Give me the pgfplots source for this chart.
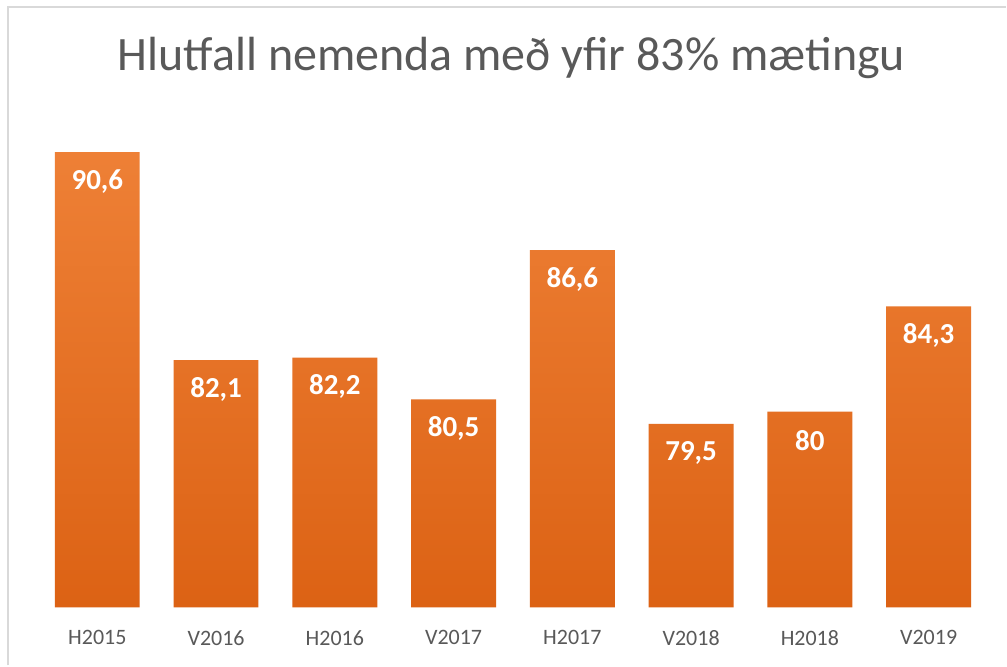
\documentclass[border=0pt]{standalone}
\usepackage{fontspec}
\setmainfont{Carlito}
\usepackage{pgfplots}
\pgfplotsset{compat=1.18}
\definecolor{txt}{HTML}{595959}
\definecolor{bartop}{HTML}{EE8036}
\definecolor{barbot}{HTML}{DC6214}
\definecolor{frame}{HTML}{D9D9D9}

\begin{document}
\begin{tikzpicture}
% page background with soft gray band
\shade[top color=white, middle color=black!13, bottom color=white] (0pt,0pt) rectangle (1007pt,666pt);
\draw[frame, line width=2pt] (8pt,0pt) -- (8pt,659pt) -- (1007pt,659pt);
\node[txt, font=\fontsize{48}{56}\selectfont] at (512pt,608pt) {Hlutfall nemenda með yfir 83\% mætingu};
\begin{axis}[
  at={(38pt,58pt)}, anchor=south west,
  scale only axis, width=951pt, height=490pt,
  ybar, bar width=0.714,
  xmin=-0.5, xmax=7.5, ymin=72, ymax=92,
  xtick=data,
  xticklabels={H2015,V2016,H2016,V2017,H2017,V2018,H2018,V2019},
  ytick=\empty,
  axis line style={draw=none}, tick style={draw=none},
  xticklabel style={text=txt, font=\fontsize{22}{26}\selectfont, yshift=-15pt},
  clip=false,
  nodes near coords,
  every node near coord/.append style={text=white, font=\fontsize{29}{34}\selectfont\bfseries,
    anchor=center, yshift=-29pt,
    /pgf/number format/fixed, /pgf/number format/precision=1, /pgf/number format/use comma,
    /pgf/number format/assume math mode=true},
]
\addplot[draw=none, top color=bartop, bottom color=barbot] coordinates {
  (0,90.6) (1,82.1) (2,82.2) (3,80.5) (4,86.6) (5,79.5) (6,80) (7,84.3)};
\end{axis}
\end{tikzpicture}
\end{document}
